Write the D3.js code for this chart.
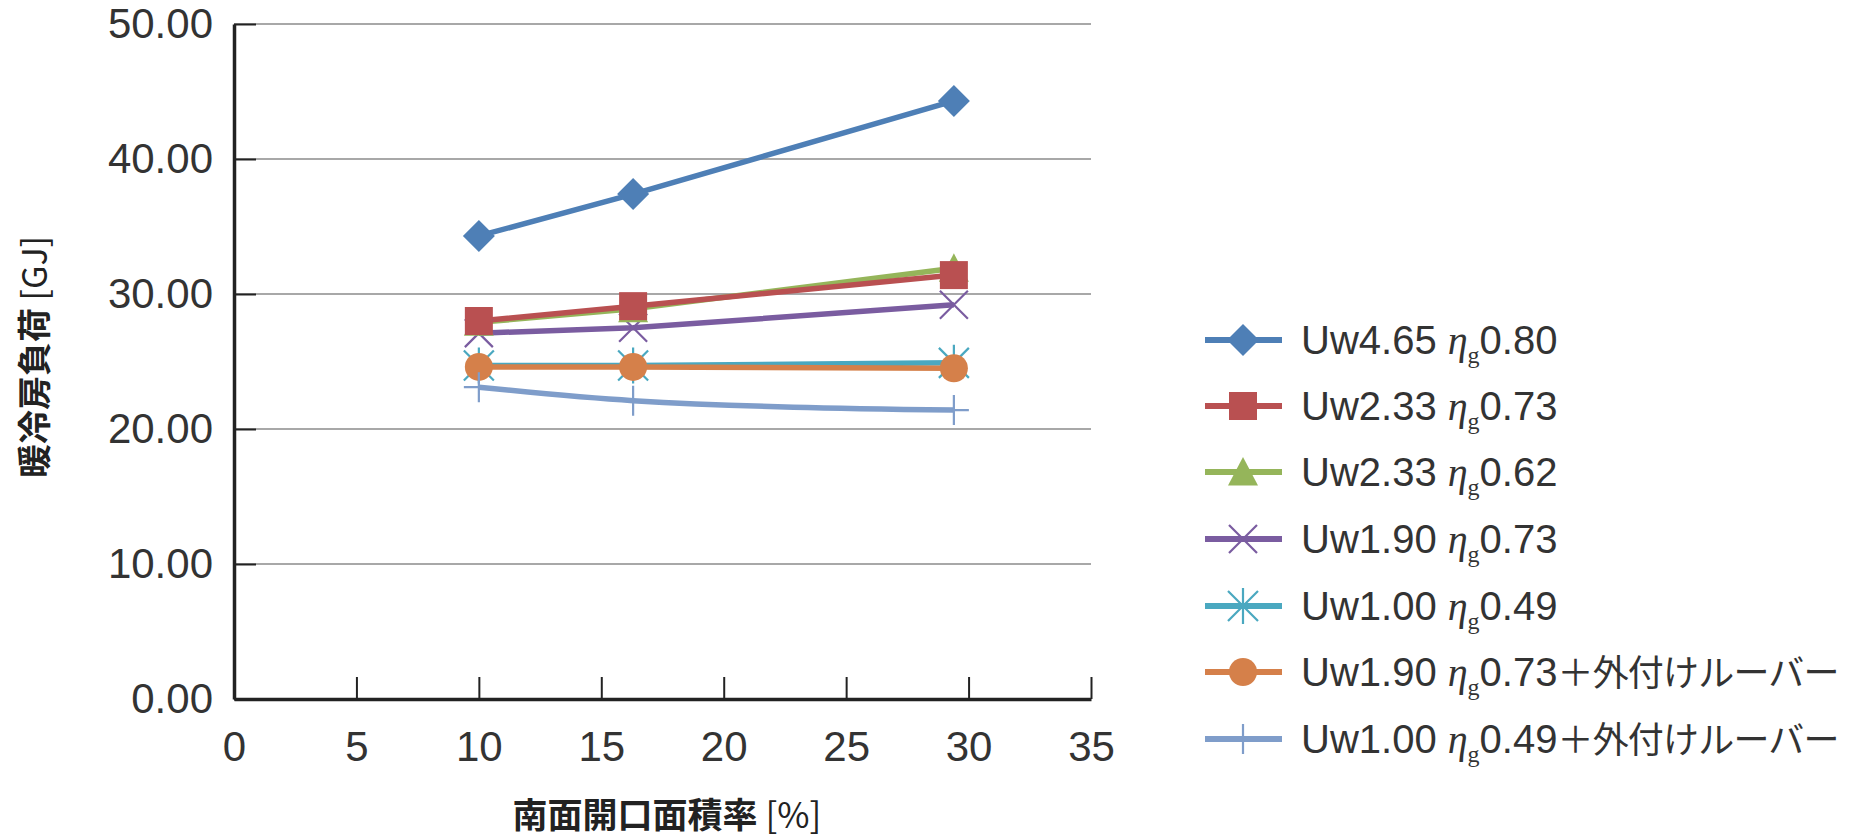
<!DOCTYPE html>
<html><head><meta charset="utf-8">
<script src="https://cdn.jsdelivr.net/npm/d3@7"></script>
<style>body{margin:0;background:#fff}</style>
</head><body>
<svg id="chart" width="1852" height="837"></svg>
<script>
const xValues = [10.0, 16.3, 29.4];
const xTicks = [0, 5, 10, 15, 20, 25, 30, 35];
const yTicks = [0, 10, 20, 30, 40, 50];
const seriesNames = [
  ["Uw4.65 ", "0.80", ""],
  ["Uw2.33 ", "0.73", ""],
  ["Uw2.33 ", "0.62", ""],
  ["Uw1.90 ", "0.73", ""],
  ["Uw1.00 ", "0.49", ""],
  ["Uw1.90 ", "0.73", "＋外付けルーバー"],
  ["Uw1.00 ", "0.49", "＋外付けルーバー"]
];
const s1 = [34.3, 37.4, 44.3];
const s2 = [28.0, 29.1, 31.4];
const s3 = [27.9, 28.9, 31.9];
const s4 = [27.1, 27.5, 29.2];
const s5 = [24.7, 24.7, 24.9];
const s6 = [24.6, 24.6, 24.5];
const s7 = [23.1, 22.1, 21.4];
const seriesValues = [s1, s2, s3, s4, s5, s6, s7];
const colors = ["#4e7fb6", "#b95051", "#95b55a", "#7a5ca0", "#4aa8c0", "#d5804a", "#7f9dca"];
const markers = ["diamond", "square", "triangle", "x", "asterisk", "circle", "plus"];
const xTitle = ["南面開口面積率", " [%]"];
const yTitle = ["暖冷房負荷", " [GJ]"];

const svg = d3.select("#chart");
const x = d3.scaleLinear().domain([0, 35]).range([234, 1091]);
const y = d3.scaleLinear().domain([0, 50]).range([699, 24]);
const font = "'Liberation Sans', Arial, 'Noto Sans CJK JP', sans-serif";

// grid
svg.append("g").selectAll("line").data(yTicks.filter(d => d > 0)).join("line")
  .attr("x1", x(0)).attr("x2", x(35)).attr("y1", d => y(d)).attr("y2", d => y(d))
  .attr("stroke", "#a8a8a8").attr("stroke-width", 2);

// y axis
const yAxis = svg.append("g").attr("transform", `translate(${x(0)},0)`)
  .call(d3.axisLeft(y).tickValues(yTicks).tickFormat(d3.format(".2f")).tickSizeInner(-22).tickSizeOuter(0).tickPadding(21));
yAxis.select(".domain").attr("stroke", "#222").attr("stroke-width", 3.5);
yAxis.selectAll(".tick line").attr("stroke", "#222").attr("stroke-width", 2);
yAxis.selectAll(".tick text").attr("font-family", font).attr("font-size", 42).attr("fill", "#333");

// x axis
const xAxis = svg.append("g").attr("transform", `translate(0,${y(0)})`)
  .call(d3.axisBottom(x).tickValues(xTicks).tickFormat(d3.format("d")).tickSizeInner(-22).tickSizeOuter(0).tickPadding(32));
xAxis.select(".domain").attr("stroke", "#222").attr("stroke-width", 3.5);
xAxis.selectAll(".tick line").attr("stroke", "#222").attr("stroke-width", 2);
xAxis.selectAll(".tick text").attr("font-family", font).attr("font-size", 42).attr("fill", "#333");

// titles
const xt = svg.append("text").attr("x", 667).attr("y", 828).attr("text-anchor", "middle")
  .attr("font-family", "'Noto Sans CJK JP', sans-serif")
  .attr("font-size", 35).attr("fill", "#222");
xt.append("tspan").attr("font-weight", "bold").text(xTitle[0]);
xt.append("tspan").attr("font-weight", "normal").text(xTitle[1]);
const yt = svg.append("text").attr("transform", "translate(47,357) rotate(-90)").attr("text-anchor", "middle")
  .attr("font-family", "'Noto Sans CJK JP', sans-serif")
  .attr("font-size", 34).attr("fill", "#222");
yt.append("tspan").attr("font-weight", "bold").text(yTitle[0]);
yt.append("tspan").attr("font-weight", "normal").text(yTitle[1]);

function drawMarker(g, type, cx, cy, color, scale) {
  const k = scale || 1;
  if (type === "diamond") {
    const r = 16 * k;
    g.append("path").attr("d", `M${cx},${cy - r}L${cx + r},${cy}L${cx},${cy + r}L${cx - r},${cy}Z`).attr("fill", color);
  } else if (type === "square") {
    const r = 14 * k;
    g.append("rect").attr("x", cx - r).attr("y", cy - r).attr("width", 2 * r).attr("height", 2 * r).attr("fill", color);
  } else if (type === "triangle") {
    const r = 15 * k;
    g.append("path").attr("d", `M${cx},${cy - r}L${cx + r},${cy + r * 0.9}L${cx - r},${cy + r * 0.9}Z`).attr("fill", color);
  } else if (type === "x") {
    const r = 14 * k;
    g.append("path").attr("d", `M${cx - r},${cy - r}L${cx + r},${cy + r}M${cx - r},${cy + r}L${cx + r},${cy - r}`)
      .attr("stroke", color).attr("stroke-width", 2.2).attr("fill", "none");
  } else if (type === "asterisk") {
    const r = 15 * k;
    g.append("path").attr("d", `M${cx - r},${cy - r}L${cx + r},${cy + r}M${cx - r},${cy + r}L${cx + r},${cy - r}M${cx},${cy - r * 1.2}L${cx},${cy + r * 1.2}`)
      .attr("stroke", color).attr("stroke-width", 2.2).attr("fill", "none");
  } else if (type === "circle") {
    g.append("circle").attr("cx", cx).attr("cy", cy).attr("r", 14 * k).attr("fill", color);
  } else if (type === "plus") {
    const r = 15 * k;
    g.append("path").attr("d", `M${cx - r},${cy}L${cx + r},${cy}M${cx},${cy - r}L${cx},${cy + r}`)
      .attr("stroke", color).attr("stroke-width", 2.2).attr("fill", "none");
  }
}

const line = d3.line().x((d, i) => x(xValues[i])).y(d => y(d));
const smooth = d3.line().x((d, i) => x(xValues[i])).y(d => y(d)).curve(d3.curveMonotoneX);
const lineOrder = [6, 0, 2, 1, 3, 4, 5];
const plot = svg.append("g");
lineOrder.forEach(i => {
  plot.append("path").datum(seriesValues[i]).attr("d", i === 6 ? smooth : line)
    .attr("fill", "none").attr("stroke", colors[i]).attr("stroke-width", 5.5).attr("stroke-linejoin", "round");
});
const markerOrder = [0, 3, 2, 1, 4, 5, 6];
markerOrder.forEach(i => {
  seriesValues[i].forEach((v, j) => drawMarker(plot, markers[i], x(xValues[j]), y(v), colors[i]));
});

// legend
const legendY = [340, 406, 472, 539, 606, 672, 739];
const leg = svg.append("g");
seriesNames.forEach((nm, i) => {
  const cy = legendY[i];
  leg.append("line").attr("x1", 1205).attr("x2", 1282).attr("y1", cy).attr("y2", cy)
    .attr("stroke", colors[i]).attr("stroke-width", 6);
  drawMarker(leg, markers[i], 1243, cy, colors[i], 1);
  const t = leg.append("text").attr("x", 1301).attr("y", cy + 14)
    .attr("font-family", font).attr("font-size", 40).attr("fill", "#333");
  t.append("tspan").text(nm[0]);
  t.append("tspan").attr("font-style", "italic").attr("font-family", "'Liberation Serif', serif").text("η");
  t.append("tspan").attr("font-size", 24).attr("dy", 9).attr("font-family", "'Liberation Serif', serif").text("g");
  t.append("tspan").attr("dy", -9).text(nm[1]);
  if (nm[2]) {
    t.append("tspan").attr("font-family", "'Noto Sans CJK JP', sans-serif").attr("font-size", 36)
      .attr("letter-spacing", -0.8).text(nm[2]);
  }
});
</script>
</body></html>
